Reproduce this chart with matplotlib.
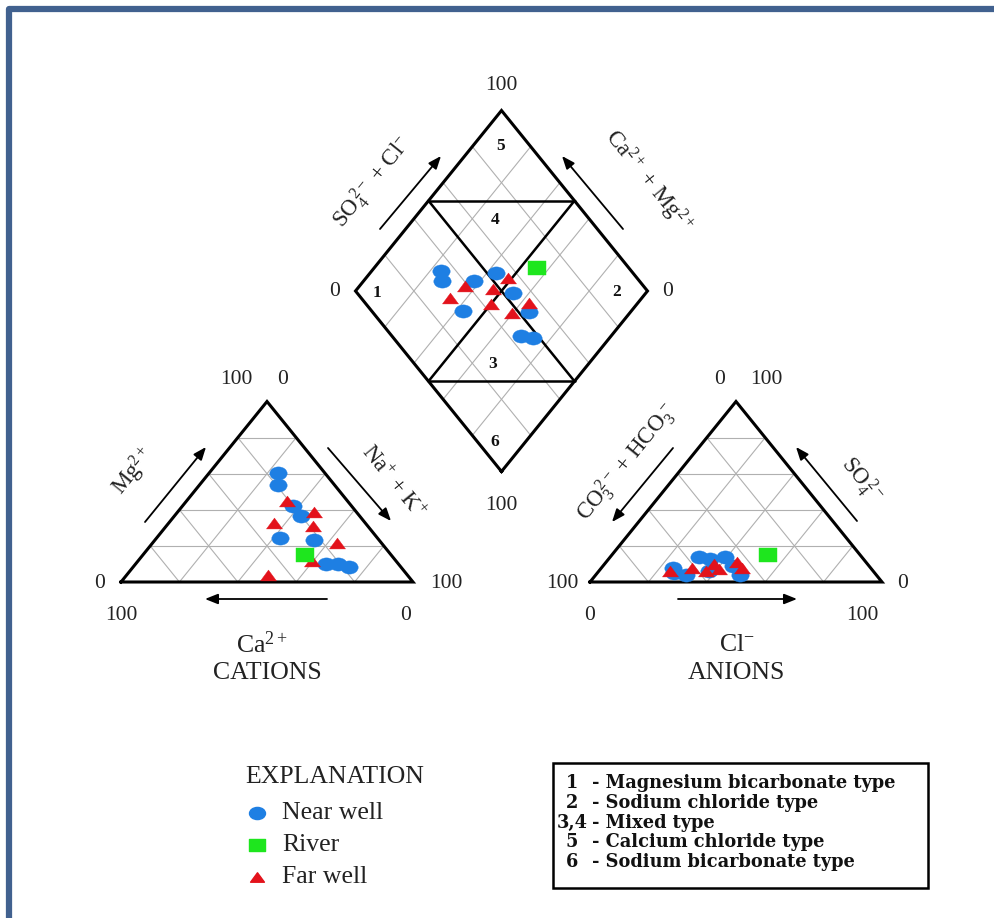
import matplotlib
matplotlib.use("Agg")
import matplotlib.pyplot as plt
from matplotlib.path import Path
from matplotlib.transforms import Affine2D
from matplotlib.patches import Rectangle

# ---------------- data (percent of meq/L) ----------------
near_ca   = [15.8, 19.2, 19.9, 20.0, 33.3, 22.5, 24.7, 20.8, 17.8]
near_mg   = [60.6, 53.9, 42.2, 36.7, 24.4, 23.1, 10.0, 10.0, 8.5]
near_nak  = [23.6, 26.9, 37.9, 43.3, 42.3, 54.4, 65.3, 69.2, 73.7]
near_hco3 = [65.2, 67.5, 56.4, 46.8, 68.7, 46.5, 46.4, 55.6, 52.4]
near_so4  = [4.0, 8.0, 6.0, 14.0, 5.0, 4.0, 9.0, 14.0, 13.0]
near_cl   = [30.8, 24.5, 37.6, 39.2, 26.3, 49.5, 44.6, 30.4, 34.6]

far_ca   = [20.5, 14.4, 31.2, 18.8, 15.2, 47.6, 28.7]
far_mg   = [45.0, 38.9, 32.8, 31.1, 21.8, 3.9, 11.7]
far_nak  = [34.5, 46.7, 36.0, 50.1, 63.0, 48.5, 59.6]
far_hco3 = [69.5, 52.3, 61.1, 57.3, 43.9, 44.2, 52.5]
far_so4  = [6.0, 7.0, 8.0, 6.0, 8.0, 11.0, 10.0]
far_cl   = [24.5, 40.7, 30.9, 36.7, 48.1, 44.8, 37.5]

river_ca   = [29.4]
river_mg   = [15.0]
river_nak  = [55.6]
river_hco3 = [31.4]
river_so4  = [15.0]
river_cl   = [53.6]

legend_labels = ["Near well", "River", "Far well"]
type_numbers = ["1", "2", "3,4", "5", "6"]
type_names = ["- Magnesium bicarbonate type", "- Sodium chloride type",
              "- Mixed type", "- Calcium chloride type", "- Sodium bicarbonate type"]
grid_levels = [20, 40, 60, 80]

# ---------------- styling / layout ----------------
SERIF = "Liberation Serif"
plt.rcParams["font.family"] = [SERIF, "DejaVu Serif"]
plt.rcParams["mathtext.fontset"] = "custom"
plt.rcParams["mathtext.rm"] = SERIF
plt.rcParams["mathtext.it"] = SERIF + ":italic"
plt.rcParams["mathtext.bf"] = SERIF + ":bold"

C_NEAR = "#1E7FE3"
C_RIVER = "#1EE61E"
C_FAR = "#E3121B"
GRID_C = "#B0B0B0"
TXT = "#222222"

W = 292.0       # triangle side (horizontal, px)
H = 180.5       # triangle height (px)
CAT0 = (121.0, 582.0)
AN0 = (590.0, 582.0)
DIA0 = (501.5, 471.5)   # bottom vertex of diamond

fig = plt.figure(figsize=(9.94, 9.18), dpi=100)
ax = fig.add_axes([0, 0, 1, 1])
ax.set_xlim(0, 994)
ax.set_ylim(918, 0)
ax.axis("off")


def cat_xy(ca, mg, nak):
    s = ca + mg + nak
    return CAT0[0] + (nak + mg / 2.0) / s * W, CAT0[1] - mg / s * H


def an_xy(hco3, so4, cl):
    s = hco3 + so4 + cl
    return AN0[0] + (cl + so4 / 2.0) / s * W, AN0[1] - so4 / s * H


def dia_xy(camg, so4cl):
    a, b = camg / 100.0, so4cl / 100.0
    return DIA0[0] + (b - a) * W / 2.0, DIA0[1] - (a + b) * H


def seg(p, q, **kw):
    ax.plot([p[0], q[0]], [p[1], q[1]], solid_capstyle="round", **kw)


gkw = dict(color=GRID_C, lw=0.8, zorder=1)
bkw = dict(color="black", lw=2.2, zorder=3, solid_joinstyle="miter")

# ----- cation triangle -----
for k in grid_levels:
    seg(cat_xy(100 - k, k, 0), cat_xy(0, k, 100 - k), **gkw)
    seg(cat_xy(100 - k, 0, k), cat_xy(0, 100 - k, k), **gkw)
    seg(cat_xy(k, 0, 100 - k), cat_xy(k, 100 - k, 0), **gkw)
pts = [cat_xy(100, 0, 0), cat_xy(0, 0, 100), cat_xy(0, 100, 0), cat_xy(100, 0, 0)]
ax.plot([p[0] for p in pts], [p[1] for p in pts], **bkw)

# ----- anion triangle -----
for k in grid_levels:
    seg(an_xy(100 - k, k, 0), an_xy(0, k, 100 - k), **gkw)
    seg(an_xy(100 - k, 0, k), an_xy(0, 100 - k, k), **gkw)
    seg(an_xy(k, 0, 100 - k), an_xy(k, 100 - k, 0), **gkw)
pts = [an_xy(100, 0, 0), an_xy(0, 0, 100), an_xy(0, 100, 0), an_xy(100, 0, 0)]
ax.plot([p[0] for p in pts], [p[1] for p in pts], **bkw)

# ----- diamond -----
for k in grid_levels:
    seg(dia_xy(k, 0), dia_xy(k, 100), **gkw)
    seg(dia_xy(0, k), dia_xy(100, k), **gkw)
pts = [dia_xy(0, 0), dia_xy(100, 0), dia_xy(100, 100), dia_xy(0, 100), dia_xy(0, 0)]
ax.plot([p[0] for p in pts], [p[1] for p in pts], **bkw)
ikw = dict(color="black", lw=1.8, zorder=3)
seg(dia_xy(50, 0), dia_xy(50, 100), **ikw)
seg(dia_xy(0, 50), dia_xy(100, 50), **ikw)
seg(dia_xy(100, 50), dia_xy(50, 100), **ikw)
seg(dia_xy(50, 0), dia_xy(0, 50), **ikw)

# ----- markers -----
m_ell = Path.unit_circle().transformed(Affine2D().scale(1.0, 0.76))
m_tri = Path([(-1, -0.68), (1, -0.68), (0, 0.68), (-1, -0.68)],
             [Path.MOVETO, Path.LINETO, Path.LINETO, Path.CLOSEPOLY])
m_sq = Path([(-1, -0.8), (1, -0.8), (1, 0.8), (-1, 0.8), (-1, -0.8)],
            [Path.MOVETO, Path.LINETO, Path.LINETO, Path.LINETO, Path.CLOSEPOLY])

groups = [
    (near_ca, near_mg, near_nak, near_hco3, near_so4, near_cl, m_ell, C_NEAR, 12.5, 5),
    (far_ca, far_mg, far_nak, far_hco3, far_so4, far_cl, m_tri, C_FAR, 11.5, 6),
    (river_ca, river_mg, river_nak, river_hco3, river_so4, river_cl, m_sq, C_RIVER, 12.5, 7),
]
for ca, mg, nak, hco3, so4, cl, mk, col, ms, z in groups:
    cx, cy, ax_, ay_, dx, dy = [], [], [], [], [], []
    for i in range(len(ca)):
        x, y = cat_xy(ca[i], mg[i], nak[i])
        cx.append(x); cy.append(y)
        x, y = an_xy(hco3[i], so4[i], cl[i])
        ax_.append(x); ay_.append(y)
        camg = (ca[i] + mg[i]) / (ca[i] + mg[i] + nak[i]) * 100
        so4cl = (so4[i] + cl[i]) / (hco3[i] + so4[i] + cl[i]) * 100
        x, y = dia_xy(camg, so4cl)
        dx.append(x); dy.append(y)
    for xs, ys in ((cx, cy), (ax_, ay_), (dx, dy)):
        ax.plot(xs, ys, linestyle="none", marker=mk, markersize=ms,
                markerfacecolor=col, markeredgecolor=col, markeredgewidth=0.3, zorder=z)

# ----- tick-value texts -----
nkw = dict(fontsize=15.5, ha="center", va="center", color=TXT)
for s, x, y in [("100", 236, 379), ("0", 283, 379), ("0", 100, 583), ("100", 121, 615),
                ("100", 446, 583), ("0", 406, 615),
                ("0", 720, 379), ("100", 766, 379), ("100", 562, 583), ("0", 590, 615),
                ("0", 903, 583), ("100", 862, 615),
                ("100", 501, 86), ("0", 335, 292), ("0", 668, 292), ("100", 501, 506)]:
    ax.text(x, y, s, **nkw)

# ----- axis titles -----
tkw = dict(fontsize=18.5, ha="center", va="center", color=TXT)
ax.text(262, 645, r"Ca$^{2+}$", **tkw)
ax.text(267, 673, "CATIONS", **tkw)
ax.text(737, 645, r"Cl$^{-}$", **tkw)
ax.text(736, 673, "ANIONS", **tkw)

rkw = dict(fontsize=16.5, ha="center", va="center", rotation_mode="anchor", color=TXT)
ax.text(134, 472, r"Mg$^{2+}$", rotation=51, **rkw)
ax.text(393, 482, r"Na$^{+}$ + K$^{+}$", rotation=-51, **rkw)
ax.text(372, 182, r"SO$_4^{\,2-}$ + Cl$^{-}$", rotation=51, **rkw)
ax.text(648, 182, r"Ca$^{2+}$ + Mg$^{2+}$", rotation=-51, **rkw)
ax.text(627, 462, r"CO$_3^{\,2-}$ + HCO$_3^{\,-}$", rotation=51, **rkw)
ax.text(862, 480, r"SO$_4^{\,2-}$", rotation=-51, **rkw)

# ----- direction arrows -----
akw = dict(arrowstyle="-|>,head_length=0.55,head_width=0.22", lw=1.3, color="black",
           shrinkA=0, shrinkB=0, mutation_scale=14)
for tail, head in [((145, 522), (206, 447)), ((328, 448), (391, 521)), ((327, 599), (205, 599)),
                   ((673, 448), (612, 522)), ((857, 521), (796, 447)), ((678, 599), (797, 599)),
                   ((380, 229), (441, 156)), ((623, 229), (562, 156))]:
    ax.annotate("", xy=head, xytext=tail, arrowprops=akw)

# ----- diamond region labels -----
lkw = dict(fontsize=12.5, fontweight="bold", ha="center", va="center", color="#111111")
for s, x, y in [("5", 501, 146), ("4", 495, 220), ("1", 377, 293), ("2", 617, 292),
                ("3", 493, 364), ("6", 495, 442)]:
    ax.text(x, y, s, **lkw)

# ----- explanation legend -----
ax.text(335, 777, "EXPLANATION", fontsize=18.5, ha="center", va="center", color=TXT)
leg_marks = [(m_ell, C_NEAR, 11.5), (m_sq, C_RIVER, 11.5), (m_tri, C_FAR, 10)]
for i, lab in enumerate(legend_labels):
    yy = 813 + i * 32
    mk, col, ms = leg_marks[i]
    ax.plot([257], [yy], linestyle="none", marker=mk, markersize=ms,
            markerfacecolor=col, markeredgecolor=col)
    ax.text(282, yy, lab, fontsize=18.5, ha="left", va="center", color=TXT)

# ----- type box -----
BOXFONT = ["DejaVu Serif", SERIF]
ax.add_patch(Rectangle((553, 763), 375, 125, fill=False, lw=1.8, edgecolor="black", zorder=4))
for i, (num, name) in enumerate(zip(type_numbers, type_names)):
    yy = 783 + i * 19.8
    ax.text(572, yy, num, fontsize=12.8, fontweight="bold", family=BOXFONT,
            ha="center", va="center", color="#111111")
    ax.text(592, yy, name, fontsize=12.8, fontweight="bold", family=BOXFONT,
            ha="left", va="center", color="#111111")

# ----- page frame (top and left rule) -----
ax.plot([8.5, 8.5, 994], [918, 9, 9], color="#41618F", lw=4.5, clip_on=False,
        solid_joinstyle="round", zorder=10)

fig.savefig("out.png", dpi=100)
